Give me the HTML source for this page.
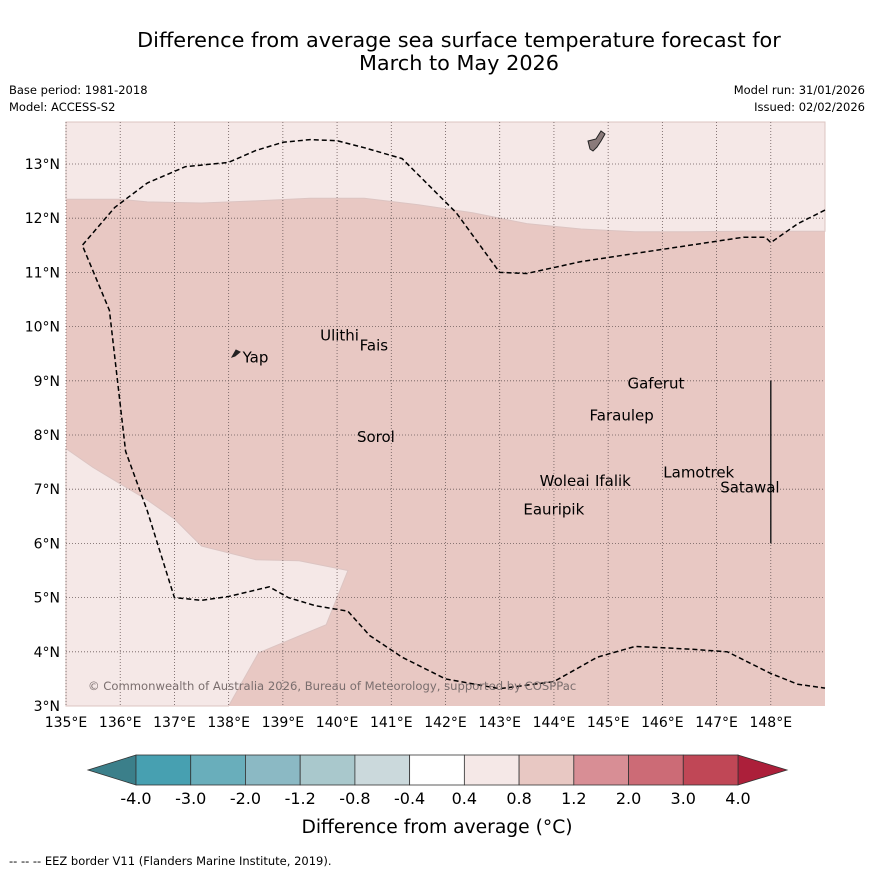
<!DOCTYPE html>
<html><head><meta charset="utf-8">
<style>
body{margin:0;background:#fff;}
svg text{font-family:"DejaVu Sans","Liberation Sans",sans-serif;}
</style></head>
<body>
<svg id="chart" width="873" height="873" xmlns="http://www.w3.org/2000/svg">
<text x="459" y="47" font-size="20.8" text-anchor="middle">Difference from average sea surface temperature forecast for</text>
<text x="459" y="70" font-size="20.8" text-anchor="middle">March to May 2026</text>
<text x="9" y="94" font-size="11.5">Base period: 1981-2018</text>
<text x="9" y="111" font-size="11.5">Model: ACCESS-S2</text>
<text x="865" y="94" font-size="11.5" text-anchor="end">Model run: 31/01/2026</text>
<text x="865" y="111" font-size="11.5" text-anchor="end">Issued: 02/02/2026</text>
<g id="map"></g>
<g id="cbar"></g>
<text x="437" y="833" font-size="18.7" text-anchor="middle">Difference from average (°C)</text>
<text x="9" y="865" font-size="11.5">--  --  -- EEZ border V11 (Flanders Marine Institute, 2019).</text>
</svg>
<script>
const lonTicks=[135,136,137,138,139,140,141,142,143,144,145,146,147,148];
const latTicks=[3,4,5,6,7,8,9,10,11,12,13];
const cbarLevels=["-4.0","-3.0","-2.0","-1.2","-0.8","-0.4","0.4","0.8","1.2","2.0","3.0","4.0"];
const cbarColors=["#47a0b1","#69aebb","#8bb9c4","#a9c8cc","#cbd9dc","#ffffff","#f5e8e7","#e8c8c3","#d88e95","#cc6b76","#c04756"];
const upperBoundary=[[135,12.35],[136,12.35],[136.5,12.3],[137.5,12.28],[138.5,12.32],[139.5,12.37],[140.5,12.37],[141.5,12.25],[142.5,12.1],[143.5,11.9],[144.5,11.8],[145.5,11.75],[146.5,11.75],[147.5,11.76],[149,11.76]];
const lowerLightRegion=[[135,7.75],[135.5,7.4],[136,7.1],[136.5,6.8],[137,6.45],[137.5,5.95],[138.5,5.7],[139.3,5.68],[140.2,5.5],[139.8,4.5],[138.55,3.98],[138,3.0],[135,3.0]];
const eezLine=[[149,12.15],[148.5,11.9],[148,11.55],[147.9,11.65],[147.5,11.65],[146.5,11.5],[145.5,11.35],[144.5,11.2],[143.5,10.98],[143,11],[142.2,12.1],[141.2,13.1],[140.5,13.3],[140,13.43],[139.5,13.45],[139,13.4],[138.5,13.25],[138,13.03],[137.2,12.95],[136.5,12.65],[135.9,12.2],[135.3,11.5],[135.8,10.3],[136.1,7.7],[136.5,6.6],[137,5.0],[137.5,4.95],[138,5.02],[138.75,5.2],[139.1,5.0],[139.6,4.85],[140.2,4.75],[140.6,4.3],[141.2,3.9],[142,3.5],[143,3.32],[144,3.45],[144.8,3.9],[145.5,4.1],[146.5,4.05],[147.2,4.0],[148,3.6],[148.5,3.4],[149,3.33]];
const islands=[["Yap",138.22,9.45],["Ulithi",139.65,9.85],["Fais",140.38,9.67],["Gaferut",145.32,8.97],["Faraulep",144.62,8.38],["Sorol",140.33,7.98],["Woleai",143.7,7.17],["Ifalik",144.72,7.17],["Lamotrek",145.98,7.33],["Satawal",147.03,7.05],["Eauripik",143.4,6.64]];
const X0=66,X1=825,Y0=122,Y1=706;
const lonMin=135,lonMax=149,latMin=3,latMax=13.775;
const x=lon=>X0+(lon-lonMin)/(lonMax-lonMin)*(X1-X0);
const y=lat=>Y1-(lat-latMin)/(latMax-latMin)*(Y1-Y0);
const NS="http://www.w3.org/2000/svg";
function mk(tag,attrs,parent){const e=document.createElementNS(NS,tag);for(const k in attrs)e.setAttribute(k,attrs[k]);parent.appendChild(e);return e;}
const map=document.getElementById('map');
const pts=a=>a.map(p=>x(p[0]).toFixed(1)+","+y(p[1]).toFixed(1)).join(" ");
let bg=mk('rect',{x:X0,y:Y0,width:X1-X0,height:Y1-Y0,fill:'#e8c8c3'},map);


let up=mk('polygon',{points:pts([[135,latMax]].concat(upperBoundary,[[149,latMax]])),fill:'#f5e8e7',stroke:'#dcc4c2','stroke-width':1},map);


let lo=mk('polygon',{points:pts(lowerLightRegion),fill:'#f5e8e7',stroke:'#dcc4c2','stroke-width':1},map);


lonTicks.forEach(l=>{
 let g=mk('line',{x1:x(l),x2:x(l),y1:Y0,y2:Y1,stroke:'#6a5a5a','stroke-width':0.8,'stroke-dasharray':'1,2'},map);
 
 
 let t=mk('text',{x:x(l),y:Y1+21,'font-size':14,'text-anchor':'middle'},map);t.textContent=l+"°E";
 
 
});
latTicks.forEach(l=>{
 if(l>latMin){let g=mk('line',{x1:X0,x2:X1,y1:y(l),y2:y(l),stroke:'#6a5a5a','stroke-width':0.8,'stroke-dasharray':'1,2'},map);
 
 }
 let t=mk('text',{x:X0-6,y:y(l)+5,'font-size':14,'text-anchor':'end'},map);t.textContent=l+"°N";
 
 
});
let eez=mk('polyline',{points:pts(eezLine),fill:'none',stroke:'#000','stroke-width':1.5,'stroke-dasharray':'5,3'},map);


let vl=mk('line',{x1:x(148),x2:x(148),y1:y(9),y2:y(6),stroke:'#222','stroke-width':1.5},map);


let guam=mk('path',{d:'M588,141 L596,139 L601,131 L605,134 L601,141 L597,147 L593,151 L590,149 Z',fill:'#8a7a7a',stroke:'#222','stroke-width':1},map);


let yap=mk('path',{d:'M232,357 L236,350 L240,352 L235,356 Z',fill:'#222',stroke:'#222','stroke-width':1},map);


islands.forEach(s=>{
 let t=mk('text',{x:x(s[1])+2,y:y(s[2])+6,'font-size':15},map);t.textContent=s[0];
 
 
});
let cp=mk('text',{x:88,y:690,'font-size':11.6,fill:'#7a6e6e'},map);cp.textContent="© Commonwealth of Australia 2026, Bureau of Meteorology, supported by COSPPac";


const cb=document.getElementById('cbar');
const CB0=136,CB1=738,CT=755,CBt=785,n=cbarColors.length,w=(CB1-CB0)/n;
let tl=mk('polygon',{points:`${CB0},${CT} ${CB0},${CBt} 88,770`,fill:'#3b7f8a',stroke:'#333','stroke-width':0.8},cb);


let tr=mk('polygon',{points:`${CB1},${CT} ${CB1},${CBt} 787,770`,fill:'#ac1f3a',stroke:'#333','stroke-width':0.8},cb);


cbarColors.forEach((c,i)=>{
 let r=mk('rect',{x:CB0+i*w,y:CT,width:w,height:CBt-CT,fill:c,stroke:'#333','stroke-width':0.8},cb);
 
 
});
cbarLevels.forEach((l,i)=>{
 let t=mk('text',{x:CB0+i*w,y:804,'font-size':16,'text-anchor':'middle'},cb);t.textContent=l;
 
 
});
</script>
</body></html>
